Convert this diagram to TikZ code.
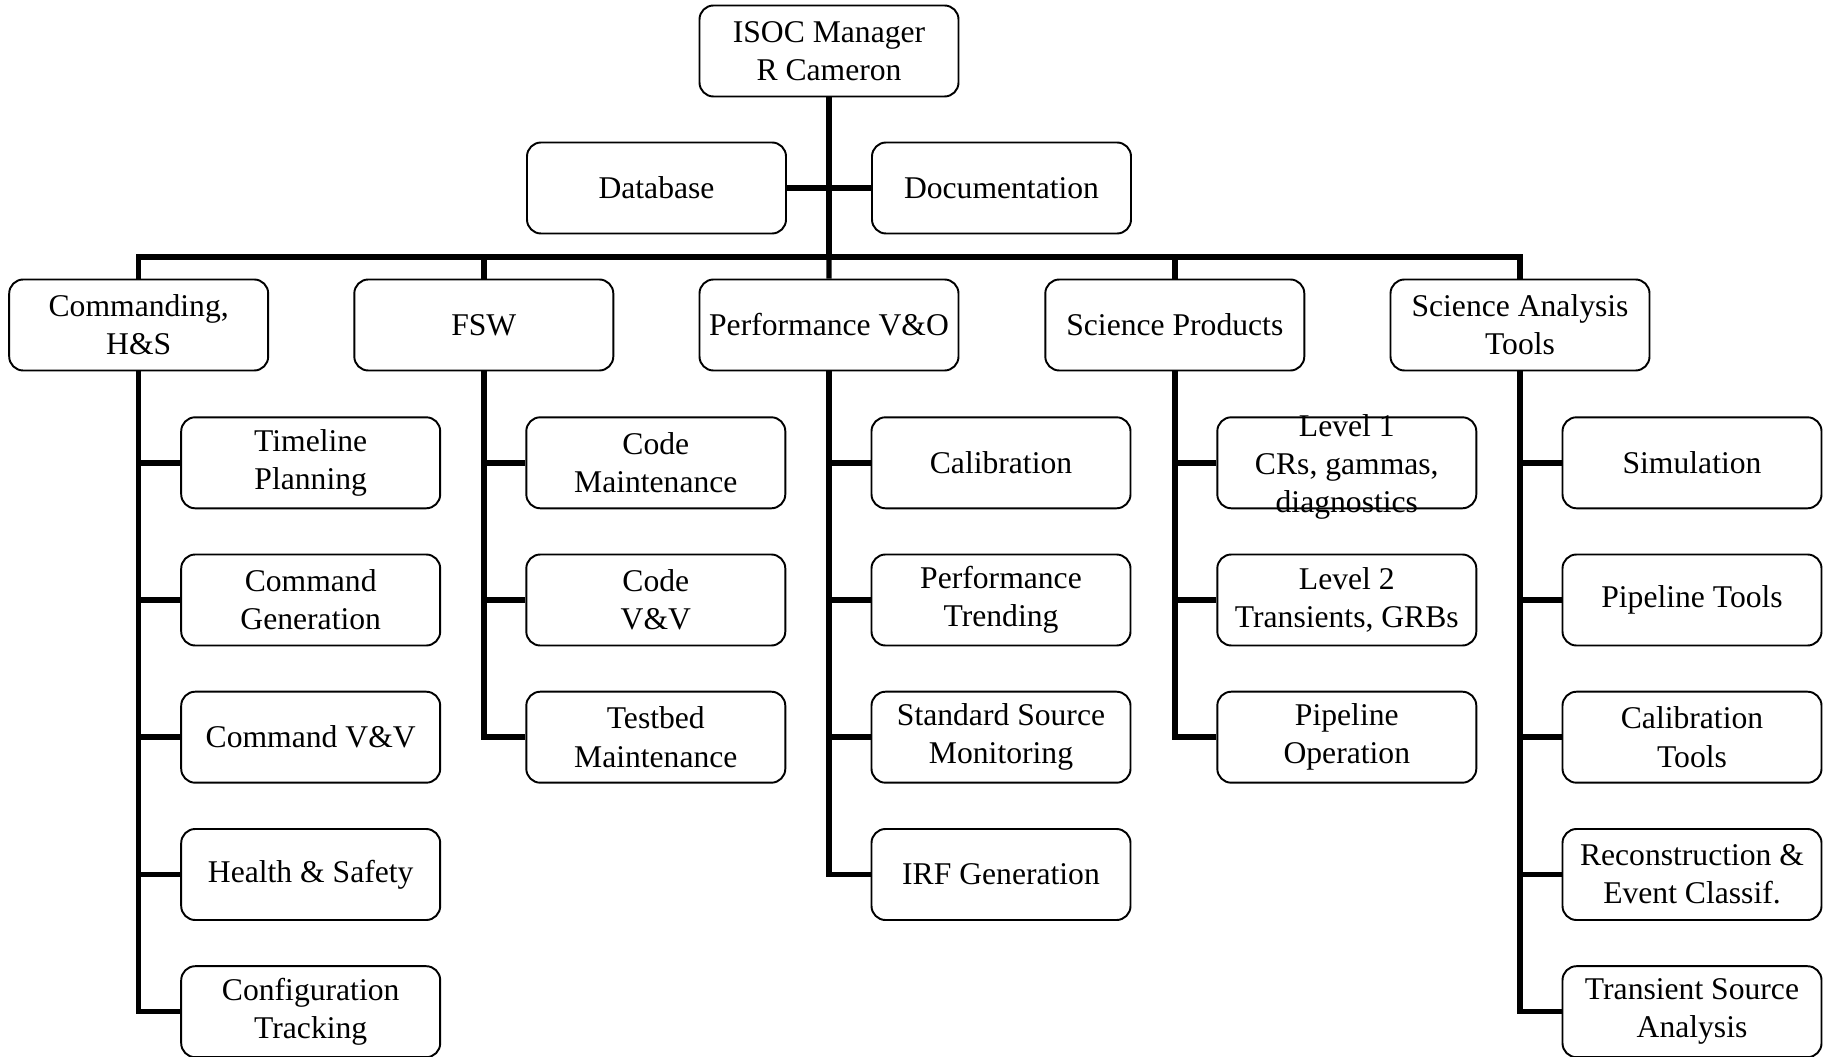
\documentclass[tikz,border=0pt]{standalone}
\usepackage{fontspec}
\setmainfont{Liberation Serif}
\usepackage{tikz}
\usetikzlibrary{calc}

\begin{document}
\begin{tikzpicture}[
    box/.style={draw, rounded corners=0.28cm, line width=1.1pt,
      minimum width=5.18cm, minimum height=1.82cm, inner sep=2pt,
      align=center, font=\fontsize{18}{21.8}\selectfont},
    boxtext/.style={align=center, inner sep=0pt, font=\fontsize{18}{21.8}\selectfont},
    link/.style={line width=3.1pt}]
  \useasboundingbox (0,0) rectangle (36.52,-21.14);
  % top of the tree
  \node[box] (isoc) at (16.58,-1.02) {ISOC Manager\\R Cameron};
  \node[box] (db) at (13.13,-3.76) {Database};
  \node[box] (doc) at (20.03,-3.76) {Documentation};
  \coordinate (bus) at (16.58,-5.14);
  \draw[link] (isoc.south) -- (bus);
  \draw[link] (db.east) -- (doc.west);
  % commanding
  \begin{scope}[xshift=2.774cm]
    \node[box] (cmd) at (0,-6.5) {Commanding,\\H\&S};
    \node[box] (tlplan) at (3.44,-9.256) {Timeline\\Planning};
    \node[box] (cmdgen) at (3.44,-12.0) {Command\\Generation};
    \node[box] (cmdvv) at (3.44,-14.744) {Command V\&V};
    \node[box] (hs) at (3.44,-17.49) {Health \& Safety};
    \node[box] (cfg) at (3.44,-20.234) {Configuration\\Tracking};
    \draw[link] (cmd.south) |- (cfg.west);
    \draw[link] (tlplan.west) -- (tlplan.west -| cmd.south);
    \draw[link] (cmdgen.west) -- (cmdgen.west -| cmd.south);
    \draw[link] (cmdvv.west) -- (cmdvv.west -| cmd.south);
    \draw[link] (hs.west) -- (hs.west -| cmd.south);
  \end{scope}
  % flight software
  \begin{scope}[xshift=9.676cm]
    \node[box] (fsw) at (0,-6.5) {FSW};
    \node[box] (codem) at (3.44,-9.256) {Code\\Maintenance};
    \node[box] (codevv) at (3.44,-12.0) {Code\\V\&V};
    \node[box] (tbm) at (3.44,-14.744) {Testbed\\Maintenance};
    \draw[link] (fsw.south) |- (tbm.west);
    \draw[link] (codem.west) -- (codem.west -| fsw.south);
    \draw[link] (codevv.west) -- (codevv.west -| fsw.south);
  \end{scope}
  % performance
  \begin{scope}[xshift=16.58cm]
    \node[box] (perf) at (0,-6.5) {Performance V\&O};
    \node[box] (calib) at (3.44,-9.256) {Calibration};
    \node[box] (ptrend) at (3.44,-12.0) {Performance\\Trending};
    \node[box] (ssmon) at (3.44,-14.744) {Standard Source\\Monitoring};
    \node[box] (irf) at (3.44,-17.49) {IRF Generation};
    \draw[link] (perf.south) |- (irf.west);
    \draw[link] (calib.west) -- (calib.west -| perf.south);
    \draw[link] (ptrend.west) -- (ptrend.west -| perf.south);
    \draw[link] (ssmon.west) -- (ssmon.west -| perf.south);
  \end{scope}
  % science products
  \begin{scope}[xshift=23.496cm]
    \node[box] (sprod) at (0,-6.5) {Science Products};
    \node[box] (lvlone) at (3.44,-9.256) {};
    \node[boxtext, yshift=-0.08cm] (lvlonetxt) at (lvlone) {Level 1\\CRs, gammas,\\diagnostics};
    \node[box] (lvltwo) at (3.44,-12.0) {Level 2\\Transients, GRBs};
    \node[box] (pipeop) at (3.44,-14.744) {Pipeline\\Operation};
    \draw[link] (sprod.south) |- (pipeop.west);
    \draw[link] (lvlone.west) -- (lvlone.west -| sprod.south);
    \draw[link] (lvltwo.west) -- (lvltwo.west -| sprod.south);
  \end{scope}
  % science analysis tools
  \begin{scope}[xshift=30.40cm]
    \node[box] (sat) at (0,-6.5) {Science Analysis\\Tools};
    \node[box] (sim) at (3.44,-9.256) {Simulation};
    \node[box] (ptools) at (3.44,-12.0) {Pipeline Tools};
    \node[box] (ctools) at (3.44,-14.744) {Calibration\\Tools};
    \node[box] (recon) at (3.44,-17.49) {Reconstruction \&\\Event Classif.};
    \node[box] (tsa) at (3.44,-20.234) {Transient Source\\Analysis};
    \draw[link] (sat.south) |- (tsa.west);
    \draw[link] (sim.west) -- (sim.west -| sat.south);
    \draw[link] (ptools.west) -- (ptools.west -| sat.south);
    \draw[link] (ctools.west) -- (ctools.west -| sat.south);
    \draw[link] (recon.west) -- (recon.west -| sat.south);
  \end{scope}
  % bus to the second row
  \draw[link] (cmd.north) |- (bus) -| (sat.north);
  \draw[link] (fsw.north) -- (fsw.north |- bus);
  \draw[link] (perf.north) -- (bus);
  \draw[link] (sprod.north) -- (sprod.north |- bus);
\end{tikzpicture}
\end{document}
